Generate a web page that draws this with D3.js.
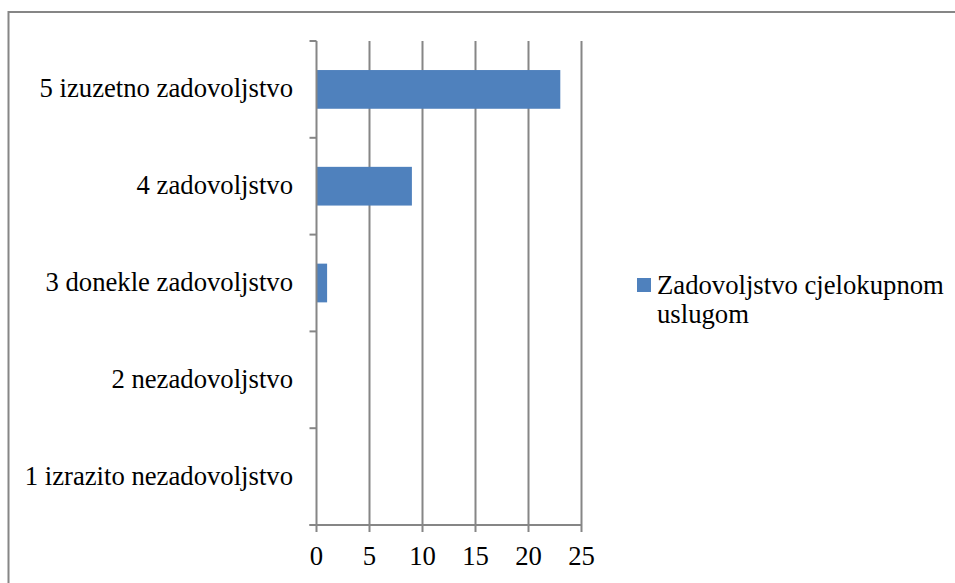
<!DOCTYPE html>
<html>
<head>
<meta charset="utf-8">
<script src="https://cdn.jsdelivr.net/npm/d3@7"></script>
<style>
  body { margin: 0; background: #fff; }
  text { font-family: "Liberation Serif", "Times New Roman", Times, serif; fill: #000; }
</style>
</head>
<body>
<div id="chart"></div>
<script>
// data
const categories = ["5 izuzetno zadovoljstvo", "4 zadovoljstvo", "3 donekle zadovoljstvo", "2 nezadovoljstvo", "1 izrazito nezadovoljstvo"];
const values = [23, 9, 1, 0, 0];
const xTicks = [0, 5, 10, 15, 20, 25];
const seriesName = ["Zadovoljstvo cjelokupnom", "uslugom"];

const width = 955, height = 583;
const plot = { left: 316.5, right: 581.5, top: 41, bottom: 525 };
const gridColor = "#868686";
const barColor = "#4F81BD";
const fontSize = "26.7px";

const svg = d3.select("#chart").append("svg")
    .attr("width", width)
    .attr("height", height);

// outer chart frame (right and bottom edges fall outside the picture)
svg.append("rect")
    .attr("x", 8.5).attr("y", 12)
    .attr("width", 1000).attr("height", 700)
    .attr("fill", "none")
    .attr("stroke", gridColor)
    .attr("stroke-width", 2);

const x = d3.scaleLinear().domain([0, 25]).range([plot.left, plot.right]);
const y = d3.scaleBand().domain(categories).range([plot.top, plot.bottom])
    .paddingInner(0.6).paddingOuter(0.3);

// vertical gridlines
svg.selectAll("line.grid")
    .data(xTicks.slice(1))
    .join("line")
    .attr("class", "grid")
    .attr("x1", d => x(d)).attr("x2", d => x(d))
    .attr("y1", plot.top).attr("y2", plot.bottom + 7)
    .attr("stroke", gridColor).attr("stroke-width", 2);

// bars
svg.selectAll("rect.bar")
    .data(categories)
    .join("rect")
    .attr("class", "bar")
    .attr("x", x(0))
    .attr("y", d => y(d))
    .attr("width", (d, i) => x(values[i]) - x(0))
    .attr("height", y.bandwidth())
    .attr("fill", barColor);

// y axis line + category boundary ticks
svg.append("line")
    .attr("x1", plot.left).attr("x2", plot.left)
    .attr("y1", plot.top).attr("y2", plot.bottom + 7)
    .attr("stroke", gridColor).attr("stroke-width", 2);

const step = y.step();
svg.selectAll("line.ytick")
    .data(d3.range(categories.length + 1))
    .join("line")
    .attr("class", "ytick")
    .attr("x1", plot.left - 7).attr("x2", plot.left)
    .attr("y1", i => plot.top + i * step).attr("y2", i => plot.top + i * step)
    .attr("stroke", gridColor).attr("stroke-width", 2);

// x axis line
svg.append("line")
    .attr("x1", plot.left - 7).attr("x2", plot.right)
    .attr("y1", plot.bottom).attr("y2", plot.bottom)
    .attr("stroke", gridColor).attr("stroke-width", 2);

// category labels
svg.selectAll("text.cat")
    .data(categories)
    .join("text")
    .attr("class", "cat")
    .attr("x", 293)
    .attr("y", d => y(d) + y.bandwidth() / 2 + 8)
    .attr("text-anchor", "end")
    .style("font-size", fontSize)
    .text(d => d);

// x tick labels
svg.selectAll("text.xtick")
    .data(xTicks)
    .join("text")
    .attr("class", "xtick")
    .attr("x", d => x(d))
    .attr("y", 565)
    .attr("text-anchor", "middle")
    .style("font-size", fontSize)
    .text(d => d);

// legend
svg.append("rect")
    .attr("x", 637).attr("y", 278)
    .attr("width", 14).attr("height", 14)
    .attr("fill", barColor);

svg.append("text")
    .attr("x", 657).attr("y", 294)
    .style("font-size", fontSize)
    .selectAll("tspan")
    .data(seriesName)
    .join("tspan")
    .attr("x", 657)
    .attr("dy", (d, i) => i === 0 ? 0 : 29)
    .text(d => d);
</script>
</body>
</html>
